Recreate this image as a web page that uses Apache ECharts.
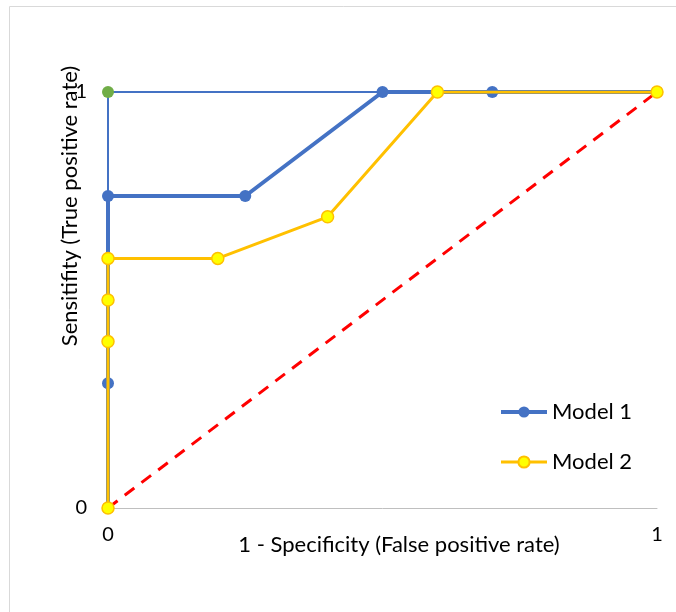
<!DOCTYPE html>
<html><head><meta charset="utf-8">
<script src="https://cdn.jsdelivr.net/npm/echarts@6/dist/echarts.min.js"></script>
<style>html,body{margin:0;padding:0;background:#fff}#c{width:676px;height:612px}</style>
</head><body><div id="c"></div>
<script>
var xTicks = ['0', '1'];
var yTicks = ['0', '1'];
var model1 = [[0,0],[0,0.3],[0,0.75],[0.25,0.75],[0.5,1],[0.7,1],[1,1]];
var model2 = [[0,0],[0,0.4],[0,0.5],[0,0.6],[0.2,0.6],[0.4,0.7],[0.6,1],[1,1]];
var perfect = [[0,0],[0,1],[1,1]];
var chance = [[0,0],[1,1]];
var FONT = 'Lato';
var chart = echarts.init(document.getElementById('c'));
chart.setOption({
  animation:false,
  textStyle:{fontFamily:FONT},
  grid:{left:108,right:19,top:92,bottom:104,containLabel:false},
  xAxis:{type:'value',min:0,max:1,interval:1,
    axisLine:{show:true,lineStyle:{color:'#BFBFBF',width:1}},axisTick:{show:false},splitLine:{show:false},
    axisLabel:{color:'#000',fontSize:20,margin:17,fontFamily:FONT,formatter:function(v){return xTicks[v];}}},
  yAxis:{type:'value',min:0,max:1,interval:1,
    axisLine:{show:false},axisTick:{show:false},splitLine:{show:false},
    axisLabel:{color:'#000',fontSize:20,margin:21,fontFamily:FONT,formatter:function(v){return yTicks[v];}}},
  legend:{orient:'vertical',left:494,top:396,itemWidth:46,itemHeight:14,itemGap:28,
    textStyle:{fontSize:22,color:'#000',fontFamily:FONT},
    data:[{name:'Model 1',lineStyle:{width:4}},{name:'Model 2',lineStyle:{width:3}}]},
  graphic:[
    {type:'rect',shape:{x:9.5,y:6.5,width:700,height:700},style:{fill:'none',stroke:'#D9D9D9',lineWidth:1},silent:true},
    {type:'text',x:399,y:545,style:{text:'1 - Specificity (False positive rate)',font:'22px "'+FONT+'"',fill:'#000',align:'center',verticalAlign:'middle'}},
    {type:'text',x:70,y:206,rotation:Math.PI/2,style:{text:'Sensitifity (True positive rate)',font:'22px "'+FONT+'"',fill:'#000',align:'center',verticalAlign:'middle'}}
  ],
  series:[
    {name:'Perfect',type:'line',data:perfect,lineStyle:{color:'#4472C4',width:2},
      symbol:'circle',symbolSize:12,itemStyle:{color:'#70AD47'},z:1,
      showSymbol:true},
    {name:'Chance',type:'line',data:chance,symbol:'none',lineStyle:{color:'#FF0000',width:3,type:[12,9]},z:2},
    {name:'Model 1',type:'line',data:model1,symbol:'circle',symbolSize:12,
      lineStyle:{color:'#4472C4',width:4},itemStyle:{color:'#4472C4'},z:3},
    {name:'Model 2',type:'line',data:model2,symbol:'circle',symbolSize:12,
      lineStyle:{color:'#FFC000',width:3},itemStyle:{color:'#FFFF00',borderColor:'#FFC000',borderWidth:1.5},z:4}
  ]
});
</script></body></html>
